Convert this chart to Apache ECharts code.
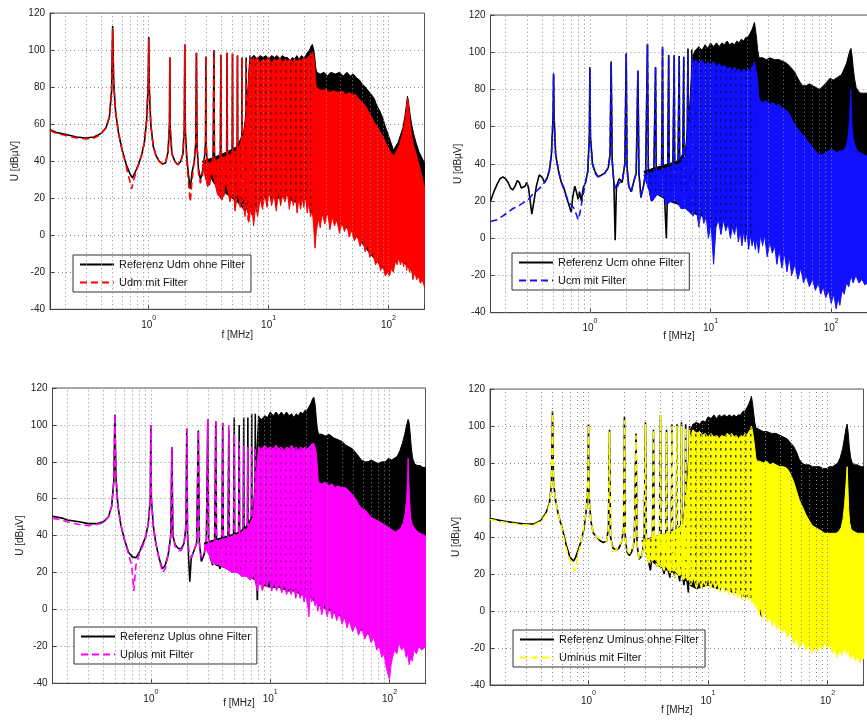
<!DOCTYPE html>
<html><head><meta charset="utf-8">
<script src="https://cdn.jsdelivr.net/npm/echarts@6/dist/echarts.min.js"></script>
<style>html,body{margin:0;padding:0;background:#fff;overflow:hidden}#c{width:867px;height:722px}</style>
</head><body><div id="c"></div>
<script>
// ---------- axis tick values ----------
const freqMin = 0.15, freqMax = 200;
const yMin = -40, yMax = 120, yStep = 20;
const vGridValues = [0.2,0.3,0.4,0.5,0.6,0.7,0.8,0.9,1,2,3,4,5,6,7,8,9,10,20,30,40,50,60,70,80,90,100];

// ---------- Panel 1: Udm ----------
const udmRef = [[0.15,57],[0.17,55.5],[0.2,54.5],[0.25,53],[0.3,52.5],[0.35,53],[0.4,55],[0.44,58],[0.47,64],[0.49,78],[0.5,113],[0.51,82],[0.53,66],[0.56,55],[0.6,46],[0.65,38],[0.7,33],[0.73,31],[0.77,34],[0.82,38],[0.87,43],[0.92,50],[0.96,62],[0.99,82],[1.0,107],[1.01,80],[1.04,60],[1.09,48],[1.15,43],[1.22,40],[1.3,38.5],[1.38,39],[1.45,45],[1.49,60],[1.5,96],[1.51,58],[1.56,44],[1.65,40],[1.75,38],[1.85,40],[1.93,44],[1.98,58],[2.0,103],[2.02,56],[2.08,42],[2.15,32],[2.22,25],[2.3,34],[2.4,40],[2.47,50],[2.5,98.5],[2.53,48],[2.6,36],[2.7,30],[2.8,34],[2.92,42],[2.98,50],[3.0,96.5],[3.02,48],[3.1,34],[3.2,27],[3.32,35],[3.45,44],[3.5,100],[3.53,45],[3.62,32],[3.75,24],[3.88,32],[3.96,46],[4.0,97.5],[4.03,44],[4.12,30],[4.25,22],[4.38,30],[4.47,45],[4.5,98.5],[4.53,44],[4.62,28],[4.75,20],[4.88,30],[4.97,46],[5.0,98],[5.03,44],[5.12,26],[5.25,16],[5.38,28],[5.47,46],[5.5,97],[5.53,44],[5.62,26],[5.75,18],[5.88,28],[5.97,46],[6.0,96],[6.03,44],[6.12,24],[6.25,14],[6.38,26],[6.47,48],[6.5,96],[6.53,46],[6.62,24],[6.75,12],[6.88,26],[6.97,50],[7.0,97],[7.03,48],[7.12,26],[7.25,14],[7.38,30],[7.47,52],[7.5,97],[7.53,52],[7.6,40]];
const udmFilt = [[0.15,56.5],[0.17,55],[0.2,54],[0.25,52.5],[0.3,52],[0.35,52.5],[0.4,54.5],[0.44,58],[0.47,64],[0.49,78],[0.5,111],[0.51,82],[0.53,66],[0.56,55],[0.6,46],[0.65,37],[0.69,30],[0.72,25],[0.75,30],[0.8,36],[0.87,43],[0.92,50],[0.96,62],[0.99,82],[1.0,106],[1.01,80],[1.04,60],[1.09,48],[1.15,43],[1.22,40],[1.3,38.5],[1.38,39],[1.45,45],[1.49,60],[1.5,96],[1.51,58],[1.56,44],[1.65,40],[1.75,38],[1.85,40],[1.93,44],[1.98,58],[2.0,103],[2.02,56],[2.08,40],[2.15,28],[2.22,18],[2.3,30],[2.4,40],[2.47,50],[2.5,98.5],[2.53,48],[2.6,34],[2.7,28],[2.8,32],[2.92,42],[2.98,50],[3.0,96.5],[3.02,48],[3.1,32],[3.18,26],[3.32,34],[3.45,44],[3.5,100],[3.53,45],[3.62,30],[3.75,24],[3.88,32],[3.96,46],[4.0,97.5],[4.03,44],[4.1,19],[4.25,22],[4.38,30],[4.47,45],[4.5,98.5],[4.53,44],[4.62,26],[4.75,20],[4.88,30],[4.97,46],[5.0,98],[5.03,44],[5.12,24],[5.25,14],[5.38,28],[5.47,46],[5.5,97],[5.53,44],[5.62,24],[5.75,16],[5.88,28],[5.97,46],[6.0,96],[6.03,44],[6.12,22],[6.25,12],[6.38,26],[6.47,48],[6.5,95],[6.53,46],[6.62,22],[6.75,8],[6.88,26],[6.97,50],[7.0,96],[7.03,48],[7.12,24],[7.25,10],[7.38,28],[7.47,52],[7.5,96],[7.53,52],[7.6,40]];
const udmRefUpper = [[2.8,40],[3.5,42],[4.5,45],[5.5,48],[6.2,56],[6.6,70],[6.9,92],[7.2,96],[7.6,97],[8,95],[8.5,97],[9,96],[9.5,97],[10,95],[10.6,97],[11.2,96],[11.8,97],[12.4,95],[13,97],[13.7,96],[14.4,96],[15.1,94],[15.8,96],[16.5,95],[17.2,97],[18,95],[18.8,97],[19.6,96],[20.4,97],[21.2,99],[22,100],[22.6,102],[23.2,103],[23.8,100],[24.3,96],[24.8,90],[25.3,88],[27,87],[29,88],[31,86],[33,88],[36,87],[39,88],[42,86],[45,88],[48,86],[51,87],[54,85],[57,84],[60,82],[64,80],[68,78],[72,76],[76,74],[80,70],[85,67],[90,63],[95,58],[100,54],[105,50],[110,46],[115,48],[120,50],[126,54],[132,58],[137,64],[141,70],[144,75],[147,72],[151,66],[156,60],[162,55],[170,50],[180,45],[190,42],[200,39]];
const udmRefLower = [[2.8,40],[3.5,28],[4.5,22],[5.5,18],[6.2,14],[7,14],[8,18],[9,20],[10,22],[12,20],[14,22],[16,18],[18,18],[20,20],[22,16],[24,10],[25,8],[30,12],[40,6],[50,2],[60,-4],[70,-10],[80,-14],[90,-18],[100,-20],[120,-12],[140,-16],[160,-20],[180,-22],[200,-26]];
const udmFiltUpper = [[2.8,38],[3.5,40],[4.5,43],[5.5,46],[6.2,54],[6.6,68],[6.9,90],[7.2,95],[7.6,94],[8,96],[8.5,93],[9,95],[9.5,94],[10,96],[10.6,93],[11.2,95],[11.8,94],[12.4,96],[13,93],[13.7,95],[14.4,94],[15.1,95],[15.8,93],[16.5,95],[17.2,94],[18,95],[18.8,94],[19.6,96],[20.4,95],[21.2,96],[22,97],[22.6,98],[23.2,99],[23.8,97],[24.2,93],[24.6,84],[25,80],[26,79],[28,78],[30,79],[32,77],[35,78],[38,77],[41,78],[44,76],[47,77],[50,76],[53,76],[56,74],[60,72],[64,70],[68,67],[72,64],[76,61],[80,59],[85,56],[90,53],[95,50],[100,47],[106,44],[112,43],[118,46],[124,49],[130,54],[136,60],[140,66],[143,72],[145,74],[148,68],[152,60],[157,53],[163,48],[170,44],[180,38],[190,32],[200,26]];
const udmFiltLower = [[2.8,38],[3.1,26],[3.4,34],[3.75,22],[4.1,19],[4.4,30],[4.75,18],[5.1,24],[5.25,13],[5.6,26],[5.8,15],[6.2,24],[6.35,10],[6.7,22],[6.85,7],[7.2,18],[7.5,5],[7.8,16],[8.1,10],[8.5,20],[8.9,14],[9.3,22],[9.7,15],[10.1,24],[10.6,16],[11.1,22],[11.6,13],[12.1,24],[12.6,16],[13.1,22],[13.7,18],[14.3,24],[14.9,14],[15.5,22],[16.1,16],[16.7,22],[17.3,12],[17.9,20],[18.5,14],[19.1,20],[19.7,15],[20.3,22],[21,12],[21.7,18],[22.4,10],[23.1,14],[23.7,6],[24.4,-7],[25,2],[26,9],[27,4],[28,12],[29.5,6],[31,13],[32.5,3],[34,10],[35.5,5],[37,9],[39,1],[41,7],[43,2],[45,6],[47,-1],[49,3],[52,-3],[55,0],[58,-6],[61,-2],[64,-9],[67,-5],[70,-12],[74,-9],[78,-16],[82,-13],[86,-19],[90,-16],[94,-22],[98,-20],[102,-22],[106,-18],[110,-20],[114,-14],[118,-16],[122,-12],[126,-16],[130,-13],[134,-17],[138,-12],[142,-19],[146,-15],[150,-20],[155,-17],[160,-24],[166,-20],[172,-24],[178,-22],[185,-26],[192,-24],[200,-28]];

// ---------- Panel 2: Ucm ----------
const ucmRef = [[0.15,20],[0.16,25],[0.17,29],[0.18,32],[0.19,33],[0.2,32],[0.21,30],[0.22,27],[0.23,26],[0.24,28],[0.25,31],[0.26,30],[0.27,27],[0.28,26],[0.29,28],[0.3,30],[0.31,27],[0.32,20],[0.33,13],[0.34,18],[0.36,28],[0.38,34],[0.4,33],[0.42,30],[0.44,32],[0.46,36],[0.48,45],[0.495,65],[0.5,88.5],[0.505,65],[0.52,45],[0.55,36],[0.58,30],[0.61,27],[0.64,22],[0.67,18],[0.7,14],[0.72,22],[0.75,28],[0.78,24],[0.8,21],[0.82,25],[0.85,20],[0.88,27],[0.92,30],[0.96,36],[0.99,55],[1.0,92],[1.01,55],[1.05,40],[1.1,36],[1.17,33],[1.25,34],[1.33,35],[1.42,38],[1.47,45],[1.5,95],[1.53,42],[1.58,30],[1.62,-1],[1.66,28],[1.75,32],[1.85,30],[1.95,40],[2.0,99.5],[2.03,38],[2.1,28],[2.2,25],[2.3,30],[2.42,35],[2.5,90],[2.55,35],[2.65,22],[2.78,28],[2.9,35],[3.0,104.5],[3.05,36],[3.15,24],[3.25,20],[3.38,30],[3.5,92],[3.55,34],[3.65,24],[3.8,28],[3.93,36],[4.0,103],[4.05,34],[4.15,24],[4.3,0],[4.4,26],[4.5,98.5],[4.55,32],[4.7,20],[4.85,28],[5.0,98.5],[5.05,32],[5.2,20],[5.35,28],[5.5,98],[5.55,30],[5.7,18],[5.85,28],[6.0,97.5],[6.05,30],[6.2,18],[6.35,26],[6.5,102],[6.55,30],[6.7,18],[6.85,26],[7.0,101.5],[7.05,30],[7.2,20],[7.35,26],[7.5,101],[7.55,40]];
const ucmFilt = [[0.15,9],[0.17,10],[0.19,12],[0.21,14],[0.23,16],[0.25,17],[0.28,19],[0.31,21],[0.34,24],[0.37,26],[0.4,28],[0.43,31],[0.46,36],[0.48,45],[0.495,65],[0.5,88],[0.505,65],[0.52,45],[0.55,36],[0.58,30],[0.62,25],[0.66,20],[0.7,18],[0.74,16],[0.78,12],[0.8,10],[0.83,14],[0.87,22],[0.92,30],[0.96,36],[0.99,55],[1.0,91],[1.01,55],[1.05,40],[1.1,35],[1.17,33],[1.25,34],[1.33,35],[1.42,38],[1.47,45],[1.5,94],[1.53,42],[1.58,30],[1.65,26],[1.75,30],[1.85,30],[1.95,40],[2.0,99],[2.03,38],[2.1,28],[2.2,25],[2.3,30],[2.42,35],[2.5,90],[2.55,35],[2.65,22],[2.78,28],[2.9,35],[3.0,104],[3.05,36],[3.15,24],[3.25,20],[3.38,30],[3.5,92],[3.55,34],[3.65,24],[3.8,28],[3.93,36],[4.0,103],[4.05,34],[4.15,24],[4.3,18],[4.4,26],[4.5,98],[4.55,32],[4.7,20],[4.85,28],[5.0,98],[5.05,32],[5.2,20],[5.35,28],[5.5,97],[5.55,30],[5.7,16],[5.85,28],[6.0,97],[6.05,30],[6.2,16],[6.35,26],[6.5,100],[6.55,30],[6.7,16],[6.85,26],[7.0,98],[7.05,30],[7.2,14],[7.35,26],[7.5,96],[7.55,40]];
const ucmRefUpper = [[2.8,36],[3.5,38],[4.5,40],[5.5,42],[6.2,48],[6.7,70],[7.1,98],[7.5,101],[8,103],[8.5,101],[9,104],[9.5,102],[10,105],[10.6,103],[11.2,105],[11.8,103],[12.4,105],[13,104],[13.7,106],[14.4,104],[15.1,105],[15.8,104],[16.5,106],[17.2,105],[18,107],[18.8,106],[19.6,108],[20.4,108],[21.2,110],[22,112],[22.6,114],[23.1,116],[23.6,112],[24.1,107],[24.6,101],[25.2,97],[27,97],[29,96],[31,97],[34,96],[37,96],[40,95],[43,94],[46,92],[49,90],[52,87],[55,84],[58,82],[62,82],[66,83],[70,82],[75,81],[80,80],[86,82],[92,84],[98,86],[104,85],[110,86],[116,87],[122,88],[128,91],[134,94],[139,98],[143,101],[146,102],[149,98],[152,92],[156,86],[161,81],[168,79],[176,78],[186,78],[200,78]];
const ucmRefLower = [[2.8,36],[3.5,24],[4.5,20],[5.5,18],[6.2,16],[7,14],[8,12],[10,12],[12,12],[14,10],[16,10],[18,10],[20,8],[22,8],[24,6],[26,6],[30,4],[40,0],[50,-4],[60,-8],[80,-12],[100,-14],[120,-14],[140,-12],[160,-12],[180,-12],[200,-12]];
const ucmFiltUpper = [[2.8,34],[3.5,36],[4.5,38],[5.5,40],[6.2,45],[6.7,65],[7.1,94],[7.5,96],[8,94],[8.5,96],[9,93],[9.5,95],[10,93],[10.6,95],[11.2,92],[11.8,94],[12.4,92],[13,93],[13.7,91],[14.4,92],[15.1,90],[15.8,92],[16.5,90],[17.2,91],[18,89],[18.8,91],[19.6,89],[20.4,91],[21.2,90],[22,92],[22.6,93],[23.1,95],[23.6,92],[24.1,89],[24.6,84],[25.1,76],[25.6,74],[27,73],[29,74],[31,72],[33,73],[35,71],[37,72],[39,70],[42,69],[45,67],[48,63],[51,60],[54,58],[57,56],[60,55],[64,52],[68,50],[72,48],[76,46],[80,45],[85,45],[90,46],[95,47],[100,48],[106,47],[112,46],[118,47],[124,47],[130,48],[135,51],[139,56],[142,64],[144,74],[145.5,80],[147,70],[149,60],[152,54],[157,50],[164,47],[174,46],[186,45],[200,44]];
const ucmFiltLower = [[2.8,34],[3.15,24],[3.3,20],[3.65,24],[4.15,22],[4.35,18],[4.7,20],[5.2,20],[5.7,16],[6.2,16],[6.7,14],[7.2,12],[7.6,17],[8,6],[8.4,15],[8.8,8],[9.2,12],[9.6,0],[10.1,8],[10.6,-14],[11.1,6],[11.6,10],[12.2,2],[12.8,10],[13.4,4],[14,8],[14.6,0],[15.2,6],[15.8,2],[16.4,8],[17,-2],[17.6,4],[18.2,-4],[18.8,4],[19.4,-2],[20,4],[20.7,-6],[21.4,2],[22.1,-4],[22.8,0],[23.5,-6],[24.2,0],[25,-8],[26,2],[27,-4],[28,2],[29.5,-10],[31,-2],[32.5,-8],[34,-4],[35.5,-14],[37,-6],[39,-16],[41,-8],[43,-18],[45,-10],[47,-20],[50,-14],[53,-22],[56,-16],[59,-24],[62,-20],[66,-26],[70,-22],[74,-28],[78,-24],[82,-30],[86,-26],[90,-32],[95,-28],[100,-35],[105,-30],[110,-38],[114,-32],[118,-36],[123,-28],[128,-30],[134,-24],[140,-26],[146,-20],[152,-24],[160,-20],[170,-24],[180,-22],[190,-25],[200,-24]];

// ---------- Panel 3: Uplus ----------
const uplusRef = [[0.15,50.5],[0.18,49.5],[0.2,48.5],[0.25,47.5],[0.3,46.5],[0.35,46.5],[0.4,47.5],[0.44,50],[0.47,56],[0.49,70],[0.5,105.5],[0.51,72],[0.53,56],[0.56,46],[0.6,38],[0.65,31],[0.7,28.5],[0.75,28],[0.8,31],[0.85,35],[0.9,39],[0.95,46],[0.99,60],[1.0,100],[1.01,60],[1.05,45],[1.1,36],[1.17,28],[1.25,22],[1.32,24],[1.4,30],[1.47,40],[1.5,88],[1.53,40],[1.6,35],[1.7,33],[1.8,33],[1.9,36],[1.97,45],[2.0,98],[2.03,40],[2.08,26],[2.12,15],[2.18,28],[2.3,32],[2.42,36],[2.5,97],[2.55,36],[2.65,26],[2.8,30],[2.92,38],[3.0,103],[3.05,38],[3.15,28],[3.3,24],[3.42,34],[3.5,102],[3.55,36],[3.65,26],[3.8,22],[3.93,34],[4.0,101],[4.05,34],[4.15,24],[4.3,22],[4.42,32],[4.5,97],[4.55,32],[4.65,22],[4.8,20],[4.92,30],[5.0,104],[5.05,30],[5.15,22],[5.3,20],[5.42,28],[5.5,100],[5.55,30],[5.65,20],[5.8,18],[5.92,28],[6.0,104],[6.05,30],[6.15,20],[6.3,18],[6.42,28],[6.5,104],[6.55,30],[6.65,18],[6.8,16],[6.92,30],[7.0,106],[7.05,32],[7.15,20],[7.3,18],[7.42,30],[7.5,106],[7.55,30],[7.7,20],[7.8,5],[7.9,25],[8.0,105],[8.05,40]];
const uplusFilt = [[0.15,49.5],[0.18,48.5],[0.2,47.5],[0.25,46],[0.3,45.5],[0.35,46],[0.4,47],[0.44,50],[0.47,56],[0.49,70],[0.5,106],[0.51,72],[0.53,56],[0.56,46],[0.6,38],[0.65,30],[0.69,24],[0.72,10],[0.75,24],[0.8,30],[0.85,34],[0.9,38],[0.95,46],[0.99,60],[1.0,100],[1.01,60],[1.05,45],[1.1,36],[1.17,28],[1.25,20],[1.32,22],[1.4,30],[1.47,40],[1.5,88],[1.53,40],[1.6,34],[1.7,32],[1.8,32],[1.9,36],[1.97,45],[2.0,98],[2.03,40],[2.1,30],[2.2,28],[2.3,32],[2.42,36],[2.5,97],[2.55,36],[2.65,28],[2.8,30],[2.92,38],[3.0,103],[3.05,38],[3.15,28],[3.3,25],[3.42,34],[3.5,102],[3.55,36],[3.65,26],[3.8,24],[3.93,34],[4.0,101],[4.05,34],[4.15,24],[4.3,22],[4.42,32],[4.5,100],[4.55,32],[4.65,22],[4.8,20],[4.92,30],[5.0,95],[5.05,30],[5.15,22],[5.3,20],[5.42,28],[5.5,91],[5.55,30],[5.65,20],[5.8,18],[5.92,28],[6.0,89],[6.05,30],[6.15,20],[6.3,18],[6.42,28],[6.5,88],[6.55,30],[6.65,18],[6.8,16],[6.92,30],[7.0,88],[7.05,32],[7.15,20],[7.3,18],[7.42,30],[7.5,88],[7.55,40]];
const uplusRefUpper = [[2.8,36],[3.5,38],[4.5,40],[5.5,42],[6.5,46],[7.2,52],[7.6,80],[8,104],[8.5,103],[9,105],[9.5,104],[10,107],[10.6,105],[11.2,107],[11.8,105],[12.4,107],[13,105],[13.7,107],[14.4,105],[15.1,106],[15.8,104],[16.5,106],[17.2,105],[18,107],[18.8,106],[19.6,108],[20.4,108],[21.2,110],[22,112],[22.6,114],[23.2,115],[23.8,111],[24.3,104],[24.8,98],[25.4,95],[27,95],[29,94],[31,95],[34,93],[37,92],[40,91],[43,89],[46,88],[49,87],[52,85],[55,83],[58,81],[62,80],[66,80],[70,81],[75,80],[80,79],[86,80],[92,80],[98,82],[104,81],[110,82],[116,83],[122,86],[128,90],[134,95],[139,100],[143,103],[146,101],[149,95],[152,88],[156,82],[162,79],[170,78],[180,78],[190,77],[200,77]];
const uplusRefLower = [[2.8,36],[3.5,24],[4.5,22],[5.5,20],[6.5,18],[7.5,16],[8,14],[10,12],[12,12],[14,10],[16,10],[18,8],[20,8],[22,6],[24,4],[26,2],[30,0],[40,-4],[50,-8],[60,-12],[80,-16],[100,-20],[120,-16],[140,-18],[160,-16],[180,-16],[200,-16]];
const uplusFiltUpper = [[2.8,35],[3.5,37],[4.5,39],[5.5,41],[6.5,44],[7.2,50],[7.6,72],[8,88],[8.5,87],[9,89],[9.5,87],[10,88],[10.6,87],[11.2,89],[11.8,87],[12.4,88],[13,86],[13.7,88],[14.4,87],[15.1,89],[15.8,87],[16.5,88],[17.2,86],[18,88],[18.8,87],[19.6,88],[20.4,87],[21.2,88],[22,89],[22.6,90],[23.2,90],[23.8,88],[24.3,85],[24.8,78],[25.3,69],[27,68],[29,69],[31,67],[33,68],[35,66],[37,67],[40,66],[43,66],[46,64],[49,62],[52,60],[55,57],[58,55],[62,54],[66,52],[70,50],[75,49],[80,48],[85,47],[90,46],[95,45],[100,44],[106,43],[112,42],[118,43],[124,44],[130,47],[135,52],[139,60],[141.5,70],[143,82],[144.5,72],[147,60],[150,50],[155,46],[162,44],[172,42],[185,41],[200,40]];
const uplusFiltLower = [[2.8,35],[3.3,25],[3.8,24],[4.3,22],[4.8,20],[5.3,20],[5.8,18],[6.3,18],[6.8,16],[7.3,18],[7.8,10],[8.2,16],[8.6,10],[9,15],[9.4,12],[9.8,17],[10.3,10],[10.8,15],[11.3,10],[11.9,14],[12.5,9],[13.1,14],[13.7,8],[14.3,12],[15,8],[15.7,12],[16.4,6],[17.1,12],[17.8,6],[18.5,10],[19.2,4],[19.9,8],[20.6,2],[21.1,-4],[21.6,8],[22.3,4],[23,8],[23.7,2],[24.4,5],[25,-1],[26,4],[27,-3],[28.5,4],[30,-4],[31.5,2],[33,-5],[34.5,0],[36,-6],[38,-2],[40,-8],[42,-4],[44,-10],[46,-6],[49,-12],[52,-8],[55,-14],[58,-10],[62,-16],[66,-12],[70,-18],[74,-15],[78,-22],[82,-20],[86,-26],[90,-24],[94,-32],[98,-36],[100,-38],[103,-30],[106,-26],[110,-22],[115,-24],[120,-18],[126,-22],[132,-20],[138,-26],[142,-24],[146,-30],[150,-26],[155,-28],[160,-22],[168,-24],[176,-20],[186,-22],[200,-20]];

// ---------- Panel 4: Uminus ----------
const uminusRef = [[0.15,50],[0.18,49],[0.2,48.5],[0.25,47.5],[0.3,47],[0.35,47],[0.4,49],[0.44,53],[0.47,58],[0.49,68],[0.5,108],[0.51,70],[0.53,60],[0.56,52],[0.6,45],[0.65,36],[0.7,29],[0.75,27],[0.78,29],[0.82,33],[0.87,38],[0.92,45],[0.96,55],[0.99,70],[1.0,101],[1.01,62],[1.05,48],[1.1,42],[1.17,40],[1.25,38],[1.33,37],[1.42,38],[1.47,45],[1.5,98],[1.53,40],[1.6,34],[1.7,33],[1.8,34],[1.9,38],[1.97,45],[2.0,105],[2.03,40],[2.1,32],[2.2,30],[2.3,32],[2.42,38],[2.5,96],[2.55,36],[2.65,28],[2.8,30],[2.92,38],[3.0,102],[3.05,36],[3.15,28],[3.3,22],[3.42,32],[3.5,98],[3.55,34],[3.65,26],[3.8,24],[3.93,32],[4.0,106],[4.05,32],[4.15,24],[4.3,20],[4.42,30],[4.5,98],[4.55,30],[4.65,22],[4.8,18],[4.92,28],[5.0,101],[5.05,30],[5.15,22],[5.3,18],[5.42,28],[5.5,101],[5.55,28],[5.65,20],[5.8,16],[5.92,26],[6.0,102],[6.05,28],[6.15,18],[6.3,14],[6.42,26],[6.5,101],[6.55,28],[6.65,18],[6.85,10],[6.92,26],[7.0,100],[7.05,30],[7.15,20],[7.3,18],[7.42,28],[7.5,101],[7.55,40]];
const uminusFilt = [[0.15,49.5],[0.18,48.5],[0.2,48],[0.25,47],[0.3,46.5],[0.35,46.5],[0.4,48.5],[0.44,52],[0.47,57],[0.49,68],[0.5,107],[0.51,70],[0.53,60],[0.56,52],[0.6,44],[0.65,34],[0.7,27],[0.74,23],[0.77,22],[0.8,27],[0.85,35],[0.9,43],[0.95,53],[0.99,70],[1.0,101],[1.01,62],[1.05,48],[1.1,42],[1.17,40],[1.25,39],[1.33,38],[1.42,38],[1.47,45],[1.5,97],[1.53,40],[1.6,32],[1.7,33],[1.8,35],[1.9,38],[1.97,45],[2.0,103],[2.03,40],[2.1,33],[2.2,31],[2.3,33],[2.42,38],[2.5,95],[2.55,36],[2.65,28],[2.8,30],[2.92,38],[3.0,101],[3.05,36],[3.15,28],[3.3,26],[3.42,32],[3.5,98],[3.55,34],[3.65,26],[3.8,24],[3.93,32],[4.0,106],[4.05,32],[4.15,24],[4.3,22],[4.42,30],[4.5,97],[4.55,30],[4.65,22],[4.8,20],[4.92,28],[5.0,100],[5.05,30],[5.15,22],[5.3,18],[5.42,28],[5.5,100],[5.55,28],[5.65,20],[5.8,18],[5.92,26],[6.0,100],[6.05,28],[6.15,18],[6.3,16],[6.42,26],[6.5,99],[6.55,28],[6.65,18],[6.8,16],[6.92,26],[7.0,98],[7.05,30],[7.15,20],[7.3,18],[7.42,28],[7.5,97],[7.55,40]];
const uminusRefUpper = [[2.8,38],[3.5,40],[4.5,42],[5.5,44],[6.2,48],[6.7,70],[7.1,98],[7.5,101],[8,102],[8.5,101],[9,103],[9.5,102],[10,105],[10.6,104],[11.2,106],[11.8,104],[12.4,106],[13,105],[13.7,106],[14.4,105],[15.1,106],[15.8,105],[16.5,106],[17.2,105],[18,106],[18.8,106],[19.6,108],[20.4,108],[21.2,110],[22,112],[22.6,114],[23.1,116],[23.6,112],[24.1,107],[24.6,102],[25.2,99],[27,98],[29,97],[31,97],[34,96],[37,96],[40,95],[43,94],[46,93],[49,91],[52,89],[55,86],[58,82],[61,80],[65,79],[70,79],[75,78],[80,78],[86,78],[92,77],[98,77],[104,78],[110,78],[116,79],[122,80],[128,83],[134,88],[139,94],[143,99],[146,101],[149,96],[152,89],[156,83],[161,80],[168,79],[178,79],[190,78],[200,78]];
const uminusRefLower = [[2.8,38],[3.5,26],[4.5,22],[5.5,20],[6.2,18],[7,14],[8,12],[10,14],[12,12],[13.8,15],[14,12],[16,10],[18,10],[20,8],[22,8],[24,6],[26,4],[28,-3],[30,0],[40,-4],[50,-8],[60,-12],[80,-16],[100,-16],[120,-18],[140,-18],[160,-20],[180,-20],[200,-20]];
const uminusFiltUpper = [[2.8,37],[3.5,40],[4.5,42],[5.5,44],[6.2,47],[6.7,66],[7.1,94],[7.5,98],[8,96],[8.5,97],[9,95],[9.5,96],[10,94],[10.6,96],[11.2,94],[11.8,95],[12.4,93],[13,95],[13.7,94],[14.4,96],[15.1,95],[15.8,96],[16.5,94],[17.2,95],[18,93],[18.8,95],[19.6,94],[20.4,96],[21.2,95],[22,97],[22.6,98],[23.1,100],[23.6,97],[24.1,93],[24.6,88],[25.1,83],[25.6,81],[27,81],[29,80],[31,81],[33,79],[35,80],[37,79],[40,78],[43,78],[46,77],[49,74],[52,70],[55,65],[58,60],[62,56],[66,52],[70,49],[75,46],[80,45],[85,44],[90,43],[95,42],[100,42],[106,42],[112,42],[118,42],[124,43],[130,45],[135,50],[139,58],[142,66],[144.5,74],[146,78],[148,68],[150,56],[153,48],[158,44],[166,43],[178,42],[190,42],[200,42]];
const uminusFiltLower = [[2.8,37],[3.2,26],[3.6,28],[4.0,24],[4.4,24],[4.8,22],[5.2,22],[5.6,20],[6.0,20],[6.4,18],[6.8,18],[7.2,14],[7.6,18],[8,12],[8.4,17],[8.8,12],[9.2,16],[9.6,13],[10,18],[10.5,12],[11,16],[11.5,12],[12,15],[12.6,10],[13.2,14],[13.8,10],[14.4,13],[15,9],[15.7,13],[16.4,8],[17.1,12],[17.8,7],[18.5,11],[19.2,6],[19.9,10],[20.6,6],[21.3,10],[22,6],[22.7,9],[23.4,4],[24.1,6],[24.8,2],[25.5,4],[26.5,-2],[27.5,2],[28.5,-4],[30,0],[31.5,-6],[33,-3],[34.5,-8],[36,-5],[38,-10],[40,-7],[42,-12],[44,-9],[46,-14],[49,-11],[52,-18],[55,-14],[58,-20],[62,-16],[66,-21],[70,-18],[74,-23],[78,-19],[82,-22],[86,-18],[90,-21],[95,-17],[100,-20],[105,-18],[110,-23],[115,-20],[120,-25],[126,-21],[132,-24],[138,-20],[144,-23],[150,-21],[156,-26],[163,-23],[170,-27],[178,-24],[186,-28],[194,-25],[200,-26]];

// ---------- layout / styling ----------
const FONT = '"Liberation Sans", Arial, sans-serif';
const panels = [
  {grid:{left:50, top:13, width:374.5, height:296.3}, legendPos:{left:73, top:255}, xGap:21, yGap:30,
   refName:'Referenz Udm ohne Filter', filtName:'Udm mit Filter', color:'#ff0000', texture:0.55,
   ref:udmRef, filt:udmFilt, refUp:udmRefUpper, refLo:udmRefLower, filtUp:udmFiltUpper, filtLo:udmFiltLower},
  {grid:{left:490.5, top:15, width:377, height:297.7}, legendPos:{left:512, top:253}, xGap:19, yGap:27.5,
   refName:'Referenz Ucm ohne Filter', filtName:'Ucm mit Filter', color:'#1010ff', texture:0.5,
   ref:ucmRef, filt:ucmFilt, refUp:ucmRefUpper, refLo:ucmRefLower, filtUp:ucmFiltUpper, filtLo:ucmFiltLower},
  {grid:{left:52.5, top:388, width:373, height:295.3}, legendPos:{left:74, top:627}, xGap:15, yGap:27,
   refName:'Referenz Uplus ohne Filter', filtName:'Uplus mit Filter', color:'#ff00ff', texture:0.3,
   ref:uplusRef, filt:uplusFilt, refUp:uplusRefUpper, refLo:uplusRefLower, filtUp:uplusFiltUpper, filtLo:uplusFiltLower},
  {grid:{left:490, top:389, width:373.5, height:296}, legendPos:{left:513, top:630}, xGap:20, yGap:29,
   refName:'Referenz Uminus ohne Filter', filtName:'Uminus mit Filter', color:'#ffff00', texture:0.75,
   ref:uminusRef, filt:uminusFilt, refUp:uminusRefUpper, refLo:uminusRefLower, filtUp:uminusFiltUpper, filtLo:uminusFiltLower}
];
const textureSplitF = 24; // dashed coloured trace over black: speckled texture below this frequency

function makeTexture(alpha) {
  const c = document.createElement('canvas');
  c.width = 5; c.height = 7;
  const ctx = c.getContext('2d');
  ctx.fillStyle = 'rgba(0,0,0,' + alpha + ')';
  ctx.fillRect(0, 0, 1.5, 2.5);
  return c;
}

function bandSeries(upper, lower, color, idx, z, textureAlpha) {
  const tex = textureAlpha ? makeTexture(textureAlpha) : null;
  return {
    type:'custom', xAxisIndex:idx, yAxisIndex:idx, data:upper.concat(lower), encode:{x:0, y:1},
    silent:true, animation:false, z:z,
    renderItem:function(params, api){
      if (params.dataIndex !== 0) return null;
      const top = upper.map(d => api.coord([d[0], d[1]]));
      const bot = lower.map(d => api.coord([d[0], d[1]])).reverse();
      const children = [{type:'polygon', shape:{points: top.concat(bot)}, style:{fill:color, stroke:color, lineWidth:1}}];
      if (tex) {
        const t2 = upper.filter(d => d[0] <= textureSplitF).map(d => api.coord([d[0], d[1]]));
        const b2 = lower.filter(d => d[0] <= textureSplitF).map(d => api.coord([d[0], d[1]])).reverse();
        children.push({type:'polygon', shape:{points: t2.concat(b2)}, style:{fill:{image:tex, repeat:'repeat'}, stroke:null}});
      }
      return {type:'group', children:children};
    }
  };
}

const option = {
  animation:false, backgroundColor:'#ffffff',
  grid:[], xAxis:[], yAxis:[], legend:[], series:[]
};

panels.forEach((p, i) => {
  option.grid.push(Object.assign({show:true, backgroundColor:'#fff', borderColor:'#555', borderWidth:1, containLabel:false, outerBoundsMode:'none'}, p.grid));
  option.xAxis.push({
    type:'log', logBase:10, gridIndex:i, min:freqMin, max:freqMax,
    axisLine:{show:true, onZero:false, lineStyle:{color:'#444', width:1}},
    axisTick:{show:true, inside:true, length:4, lineStyle:{color:'#444'}},
    splitLine:{show:false}, minorTick:{show:false}, minorSplitLine:{show:false},
    axisLabel:{
      margin:5, color:'#222', fontFamily:FONT,
      formatter:function(v){ const e = Math.log10(v); const r = Math.round(e); if (Math.abs(e-r) > 1e-6) return ''; return '{b|10}{s|' + r + '}'; },
      rich:{ b:{fontSize:10, fontFamily:FONT, color:'#222', lineHeight:16, verticalAlign:'bottom'},
             s:{fontSize:7, fontFamily:FONT, color:'#222', lineHeight:9, verticalAlign:'top'} }
    },
    name:'f [MHz]', nameLocation:'middle', nameGap:p.xGap, nameMoveOverlap:false,
    nameTextStyle:{fontSize:10, color:'#222', fontFamily:FONT}
  });
  option.yAxis.push({
    type:'value', gridIndex:i, min:yMin, max:yMax, interval:yStep,
    axisLine:{show:true, lineStyle:{color:'#444', width:1}},
    axisTick:{show:true, inside:true, length:4, lineStyle:{color:'#444'}},
    splitLine:{show:true, lineStyle:{type:[1,3], color:'#8a8a8a', width:1}},
    axisLabel:{fontSize:10, color:'#222', margin:5, fontFamily:FONT},
    name:'U [dBµV]', nameLocation:'middle', nameGap:p.yGap, nameRotate:90, nameMoveOverlap:false,
    nameTextStyle:{fontSize:10, color:'#222', fontFamily:FONT}
  });
  option.legend.push({
    data:[p.refName, p.filtName], left:p.legendPos.left, top:p.legendPos.top, orient:'vertical',
    backgroundColor:'#fff', borderColor:'#333', borderWidth:1, borderRadius:0, padding:[4,6,4,6],
    itemGap:7, itemWidth:34, itemHeight:10, selectedMode:false,
    itemStyle:{opacity:0, borderWidth:0},
    textStyle:{fontSize:11, color:'#111', fontFamily:FONT}
  });
  option.series.push({
    type:'line', xAxisIndex:i, yAxisIndex:i, data:[], silent:true, z:1, animation:false,
    markLine:{silent:true, symbol:['none','none'], label:{show:false}, animation:false,
      lineStyle:{type:[1,3], color:'#8a8a8a', width:1},
      data: vGridValues.map(v => ({xAxis:v}))}
  });
  option.series.push(bandSeries(p.refUp, p.refLo, '#000000', i, 2, 0));
  option.series.push({
    type:'line', name:p.refName, xAxisIndex:i, yAxisIndex:i, data:p.ref, symbol:'none', showSymbol:false,
    lineStyle:{color:'#000', width:1.6, type:'solid'}, itemStyle:{color:'#000'}, silent:true, z:3, animation:false
  });
  option.series.push(bandSeries(p.filtUp, p.filtLo, p.color, i, 4, p.texture));
  option.series.push({
    type:'line', name:p.filtName, xAxisIndex:i, yAxisIndex:i, data:p.filt, symbol:'none', showSymbol:false,
    lineStyle:{color:p.color, width:1.6, type:[7,4]}, itemStyle:{color:p.color}, silent:true, z:5, animation:false
  });
});

const chart = echarts.init(document.getElementById('c'), null, {renderer:'canvas', width:867, height:722});
chart.setOption(option);
</script></body></html>
